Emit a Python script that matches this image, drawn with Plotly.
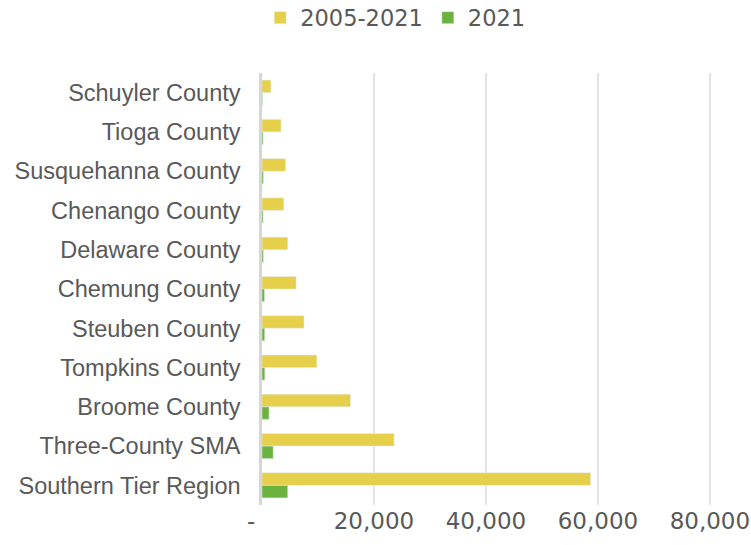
import plotly.graph_objects as go

categories = ["Schuyler County", "Tioga County", "Susquehanna County", "Chenango County",
              "Delaware County", "Chemung County", "Steuben County", "Tompkins County",
              "Broome County", "Three-County SMA", "Southern Tier Region"]
vals_2005_2021 = [1600, 3400, 4200, 3900, 4600, 6100, 7500, 9800, 15800, 23600, 58700]
vals_2021 = [100, 200, 250, 200, 250, 450, 480, 500, 1250, 2000, 4600]
tick_vals = [0, 20000, 40000, 60000, 80000]
tick_text = ["-\u00a0\u00a0\u00a0", "20,000", "40,000", "60,000", "80,000"]

FONT = "Liberation Sans"
NUMFONT = "DejaVu Sans"
GRAY = "#595959"

fig = go.Figure()
fig.add_trace(go.Bar(y=categories, x=vals_2005_2021, orientation="h", name="2005-2021",
                     marker=dict(color="#E6CF4B")))
fig.add_trace(go.Bar(y=categories, x=vals_2021, orientation="h", name="2021",
                     marker=dict(color="#6CB23F")))

fig.update_layout(
    width=751, height=545,
    margin=dict(l=262, r=40, t=73, b=40, autoexpand=False),
    paper_bgcolor="white", plot_bgcolor="white",
    barmode="group", bargap=0.36, bargroupgap=0.0,
    font=dict(family=FONT, size=23.5, color=GRAY),
    legend=dict(orientation="h", x=-0.004, y=1 - 18 / 545, xref="paper", yref="container",
                xanchor="left", yanchor="middle", font=dict(family=NUMFONT, size=22.5, color=GRAY),
                itemwidth=30, tracegroupgap=0),
    xaxis=dict(range=[0, 80200], tickvals=tick_vals, ticktext=tick_text,
               showgrid=True, gridcolor="#E4E4E4", gridwidth=1.5, zeroline=False,
               showline=False, ticks="", automargin=False,
               tickfont=dict(family=NUMFONT, size=23, color=GRAY)),
    yaxis=dict(categoryorder="array", categoryarray=categories, autorange="reversed",
               showline=True, linecolor="#D6D6D6", linewidth=2.5, ticks="",
               ticklabelstandoff=14,
               automargin=False, tickfont=dict(size=23.5, color=GRAY)),
)
fig.write_html("out.html", config={"displayModeBar": False},
               post_script="document.body.style.margin='0px';")
